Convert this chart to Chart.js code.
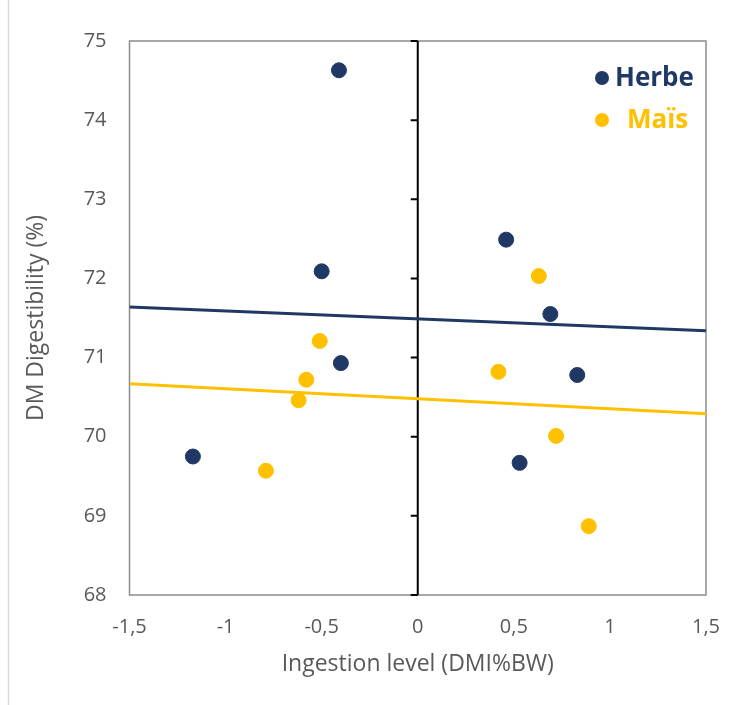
<!DOCTYPE html>
<html>
<head>
<meta charset="utf-8">
<script src="https://cdn.jsdelivr.net/npm/chart.js@4.4.0/dist/chart.umd.min.js"></script>
<style>
  html, body { margin: 0; padding: 0; background: #fff; }
</style>
</head>
<body>
<canvas id="chart" width="742" height="705"></canvas>
<script>
// series names
const seriesNames = ['Herbe', 'Maïs'];

// Herbe points (x = ingestion level, y = digestibility)
const herbeX = [-0.41, -0.50, -0.40, -1.17, 0.46, 0.69, 0.83, 0.53];
const herbeY = [74.63, 72.09, 70.93, 69.75, 72.49, 71.55, 70.78, 69.67];

// Maïs points
const maisX = [-0.51, -0.58, -0.62, -0.79, 0.63, 0.42, 0.72, 0.89];
const maisY = [71.21, 70.72, 70.46, 69.57, 72.03, 70.82, 70.01, 68.87];

// trend lines, read at both ends of the x axis
const trendX = [-1.5, 1.5];
const herbeTrend = [71.64, 71.34];
const maisTrend = [70.67, 70.29];

// axis range / ticks
const xRange = [-1.5, 1.5, 0.5];
const yRange = [68, 75, 1];

const navy = '#203864';
const gold = '#FFC000';
const grey = '#595959';
const font = "'Open Sans', 'Noto Sans', sans-serif";

const toPts = (xs, ys) => xs.map((x, i) => ({ x: x, y: ys[i] }));

// plot frame, outer border, and the vertical axis crossing at x = 0
const framePlugin = {
    id: 'frame',
    beforeDatasetsDraw(chart) {
        const { ctx, chartArea: a, scales: { x, y } } = chart;
        ctx.save();
        ctx.strokeStyle = '#d9d9d9';
        ctx.lineWidth = 1.5;
        ctx.beginPath();
        ctx.moveTo(8.5, 0);
        ctx.lineTo(8.5, chart.height);
        ctx.stroke();

        ctx.strokeStyle = '#8c8c8c';
        ctx.lineWidth = 1.5;
        ctx.strokeRect(a.left, a.top, a.right - a.left, a.bottom - a.top);

        const x0 = x.getPixelForValue(0);
        ctx.strokeStyle = '#000';
        ctx.lineWidth = 2;
        ctx.beginPath();
        ctx.moveTo(x0, a.top);
        ctx.lineTo(x0, a.bottom);
        y.ticks.forEach(t => {
            const py = y.getPixelForValue(t.value);
            ctx.moveTo(x0 - 7, py);
            ctx.lineTo(x0, py);
        });
        ctx.stroke();
        ctx.restore();
    }
};

// legend inside the plot, top right
const legendPlugin = {
    id: 'innerLegend',
    afterDraw(chart) {
        const { ctx, chartArea: a } = chart;
        const items = [
            { text: seriesNames[0], color: navy, dy: 37, dx: 13 },
            { text: seriesNames[1], color: gold, dy: 79, dx: 25 }
        ];
        ctx.save();
        ctx.font = "bold 26px " + font;
        ctx.textBaseline = 'middle';
        items.forEach(it => {
            const mx = a.right - 104;
            const my = a.top + it.dy;
            ctx.fillStyle = it.color;
            ctx.beginPath();
            ctx.arc(mx, my, 7, 0, Math.PI * 2);
            ctx.fill();
            ctx.fillText(it.text, mx + it.dx, my + 1);
        });
        ctx.restore();
    }
};

const ctx = document.getElementById('chart').getContext('2d');
const chart = new Chart(ctx, {
    type: 'scatter',
    data: {
        datasets: [
            {
                label: seriesNames[0],
                data: toPts(herbeX, herbeY),
                backgroundColor: navy,
                borderColor: navy,
                pointRadius: 7.5,
                pointHoverRadius: 7.5,
                order: 1
            },
            {
                label: seriesNames[1],
                data: toPts(maisX, maisY),
                backgroundColor: gold,
                borderColor: gold,
                pointRadius: 7.5,
                pointHoverRadius: 7.5,
                order: 1
            },
            {
                label: 'trend ' + seriesNames[0],
                data: toPts(trendX, herbeTrend),
                showLine: true,
                borderColor: navy,
                borderWidth: 3,
                pointRadius: 0,
                order: 2
            },
            {
                label: 'trend ' + seriesNames[1],
                data: toPts(trendX, maisTrend),
                showLine: true,
                borderColor: gold,
                borderWidth: 3,
                pointRadius: 0,
                order: 2
            }
        ]
    },
    options: {
        responsive: false,
        animation: false,
        layout: { padding: { top: 41, right: 36, left: 0, bottom: 0 } },
        plugins: {
            legend: { display: false },
            tooltip: { enabled: false }
        },
        scales: {
            x: {
                type: 'linear',
                min: xRange[0],
                max: xRange[1],
                afterFit: s => { s.height = 110; },
                grid: { display: false, drawTicks: false },
                border: { display: false },
                ticks: {
                    stepSize: xRange[2],
                    padding: 20,
                    color: grey,
                    font: { family: font, size: 20 },
                    callback: v => String(v).replace('.', ',')
                },
                title: {
                    display: true,
                    text: 'Ingestion level (DMI%BW)',
                    color: grey,
                    font: { family: font, size: 23 },
                    padding: { top: 0, bottom: 27 }
                }
            },
            y: {
                min: yRange[0],
                max: yRange[1],
                afterFit: s => { s.width = 129.5; },
                grid: { display: false, drawTicks: false },
                border: { display: false },
                ticks: {
                    stepSize: yRange[2],
                    padding: 23,
                    color: grey,
                    font: { family: font, size: 20 }
                },
                title: {
                    display: true,
                    text: 'DM Digestibility (%)',
                    color: grey,
                    font: { family: font, size: 23 },
                    padding: { top: 23, bottom: 0 }
                }
            }
        }
    },
    plugins: [framePlugin, legendPlugin]
});
</script>
</body>
</html>
